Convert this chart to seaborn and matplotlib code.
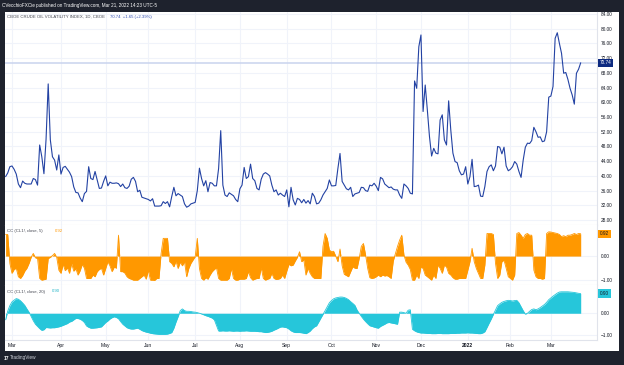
import numpy as np
import pandas as pd
import matplotlib
matplotlib.use('Agg')
import matplotlib.pyplot as plt
from matplotlib.patches import Rectangle
from matplotlib.ticker import FuncFormatter
import seaborn as sns

# NYSE trading days, Feb 24 2021 -> Mar 21 2022
holidays = ['2021-04-02', '2021-05-31', '2021-07-05', '2021-09-06',
            '2021-11-25', '2021-12-24', '2022-01-17', '2022-02-21']
dates = pd.bdate_range('2021-02-24', '2022-03-21', freq='C', holidays=holidays)

# CBOE crude oil volatility index (OVX), daily close
ovx = [39.8, 40.8, 42.5, 42.7, 41.8, 40.5, 37.8, 36.8, 38.6, 38.0,
       37.8, 37.8, 37.8, 39.3, 39.0, 37.5, 48.4, 45.2, 40.6, 50.0,
       65.0, 49.8, 45.2, 44.3, 41.6, 45.7, 40.5, 42.3, 42.6, 41.8,
       41.0, 39.8, 37.0, 35.5, 35.4, 34.0, 33.0, 35.2, 35.8, 42.5,
       39.3, 39.0, 41.2, 38.9, 36.6, 36.7, 38.5, 40.0, 37.3, 38.3,
       38.0, 38.0, 38.1, 37.9, 37.1, 37.8, 36.8, 36.6, 37.2, 39.1,
       39.6, 38.5, 35.7, 36.1, 34.2, 34.0, 33.8, 33.6, 33.2, 33.8,
       31.8, 31.8, 31.8, 31.9, 33.0, 32.5, 33.0, 31.6, 34.4, 36.9,
       34.6, 35.2, 34.8, 34.4, 32.4, 31.5, 31.8, 32.4, 32.6, 32.8,
       36.0, 42.1, 39.3, 37.3, 38.7, 35.7, 38.2, 38.0, 37.3, 37.3,
       42.0, 52.3, 37.5, 34.8, 34.4, 35.4, 35.0, 34.6, 33.6, 33.0,
       36.5, 37.5, 42.3, 39.3, 39.8, 43.2, 39.3, 38.7, 36.6, 36.2,
       39.1, 40.5, 40.9, 40.5, 40.0, 37.5, 35.7, 36.2, 34.8, 35.3,
       34.8, 34.4, 36.2, 31.6, 36.9, 33.5, 32.1, 33.9, 33.6, 32.7,
       33.6, 32.6, 33.3, 32.4, 35.3, 34.4, 32.4, 32.6, 33.5, 34.8,
       35.7, 36.6, 38.9, 37.3, 37.3, 37.4, 42.0, 46.1, 38.5, 37.5,
       36.5, 36.2, 36.9, 34.4, 35.1, 35.3, 35.5, 36.9, 36.8, 36.0,
       35.8, 37.5, 37.3, 38.0, 37.2, 36.0, 39.6, 39.2, 37.8, 37.3,
       36.8, 37.0, 36.4, 36.2, 36.2, 34.8, 33.9, 37.8, 37.3, 36.6,
       35.3, 35.1, 65.8, 63.8, 75.1, 78.3, 57.5, 64.7, 57.9, 50.7,
       45.4, 47.5, 46.2, 46.0, 55.2, 56.6, 49.8, 48.4, 60.4, 52.5,
       46.2, 43.9, 43.6, 41.4, 40.3, 40.5, 42.5, 37.8, 39.8, 44.5,
       37.1, 37.2, 37.5, 34.5, 34.4, 37.1, 41.2, 42.5, 43.0, 41.4,
       42.7, 48.0, 47.8, 46.0, 47.8, 42.7, 41.4, 41.8, 42.5, 43.9,
       43.2, 41.2, 39.6, 44.3, 47.8, 48.9, 48.8, 49.6, 53.2, 52.0,
       50.5, 50.6, 49.3, 49.5, 52.0, 61.4, 61.7, 64.3, 77.4, 78.9,
       76.0, 73.3, 67.9, 68.1, 66.2, 63.8, 62.0, 59.5, 67.9, 69.0,
       70.74]

# correlation coefficient vs CL1!, 5 bars
cc5 = [0.89, 0.89, -0.30, -0.71, -0.55, -0.50, -0.85, -0.92, -0.80, -0.62,
       -0.50, -0.30, -0.05, 0.11, -0.07, -0.10, -0.92, -0.99, -0.97, -0.95,
       -0.10, -0.05, 0.02, 0.11, -0.05, -0.58, -0.71, -0.34, -0.60, -0.48,
       -0.71, -0.30, -0.62, -0.52, -0.78, -0.60, -0.34, -0.50, -0.92, -0.92,
       -0.92, -0.78, -0.85, -0.64, -0.55, -0.50, -0.78, -0.51, -0.23, -0.40,
       -0.64, -0.45, -0.50, 0.86, -0.64, -0.64, -0.70, -0.85, -0.92, -0.95,
       -0.99, -0.99, -0.99, -0.92, -0.85, -0.78, -0.95, -0.58, -0.99, -0.99,
       -1.00, -0.92, -0.92, 0.10, 0.73, 0.73, 0.73, -0.23, -0.30, -0.44,
       -0.21, -0.51, -0.25, -0.40, -0.23, -0.85, -0.51, -0.30, -0.16, -0.03,
       0.73, -0.51, -0.92, -0.99, -0.89, -0.95, -0.78, -0.64, -0.55, -0.48,
       -0.92, -0.99, -0.99, -0.99, -0.99, -0.92, -0.51, -0.92, -0.99, -0.99,
       -0.95, -0.95, -0.95, -0.92, -0.64, -0.89, -0.99, -0.95, -0.92, -0.92,
       -0.48, -0.92, -0.99, -0.95, -0.92, -0.71, -0.92, -0.96, -0.95, -0.92,
       -0.78, -0.92, -0.62, -0.34, -0.40, -0.37, -0.20, -0.05, 0.18, -0.23,
       -0.15, -0.78, -0.51, -0.71, -0.85, -0.92, -0.92, -0.92, -0.92, 0.40,
       0.93, 0.73, 0.25, 0.18, 0.20, 0.00, -0.23, 0.29, -0.40, -0.75,
       -0.80, -0.85, -0.64, -0.44, -0.50, -0.51, -0.10, 0.40, 0.52, 0.05,
       -0.51, -0.89, -0.92, -0.90, -0.85, -0.78, -0.85, -0.78, -0.82, -0.80,
       -0.85, -0.92, -0.20, 0.10, 0.40, 0.66, 0.86, 0.05, -0.25, -0.37,
       -0.55, -0.99, -0.99, -0.78, -0.92, -0.44, -0.51, -0.78, -0.85, -0.92,
       -0.99, -0.78, -0.92, -0.37, -0.50, -0.71, -0.37, -0.45, -0.71, -0.78,
       -0.89, -0.95, -0.95, -0.92, -0.92, -0.92, -0.92, -0.58, -0.23, 0.32,
       -0.23, -0.51, -0.71, -0.92, -0.92, -0.37, 0.93, 0.93, 0.93, 0.89,
       -0.30, -0.92, -0.78, -0.23, -0.17, -0.50, -0.85, -0.92, -0.99, -0.78,
       0.93, 0.97, 0.86, 0.73, 0.89, 0.93, 0.86, 0.86, -0.58, -0.85,
       -0.92, -0.92, -0.95, -0.92, 0.93, 1.00, 0.99, 0.97, 0.95, 0.93,
       0.89, 0.80, 0.84, 0.80, 0.86, 0.86, 0.89, 0.93, 0.89, 0.93,
       0.92]

# correlation coefficient vs CL1!, 20 bars
cc20 = [-0.30, 0.10, 0.35, 0.52, 0.60, 0.67, 0.64, 0.57, 0.47, 0.36,
        0.20, 0.05, -0.15, -0.34, -0.50, -0.60, -0.70, -0.78, -0.75, -0.65,
        -0.66, -0.67, -0.66, -0.66, -0.64, -0.62, -0.59, -0.55, -0.51, -0.47,
        -0.40, -0.37, -0.30, -0.23, -0.24, -0.27, -0.33, -0.42, -0.58, -0.64,
        -0.68, -0.68, -0.67, -0.66, -0.64, -0.62, -0.52, -0.42, -0.35, -0.26,
        -0.20, -0.16, -0.19, -0.25, -0.38, -0.50, -0.58, -0.66, -0.70, -0.72,
        -0.72, -0.70, -0.68, -0.73, -0.79, -0.83, -0.86, -0.88, -0.91, -0.93,
        -0.94, -0.95, -0.96, -0.96, -0.96, -0.96, -0.95, -0.92, -0.88, -0.68,
        -0.40, -0.15, 0.12, 0.20, 0.12, 0.09, 0.09, 0.08, 0.06, 0.05,
        0.03, 0.00, -0.03, -0.07, -0.11, -0.14, -0.18, -0.22, -0.30, -0.55,
        -0.81, -0.81, -0.80, -0.81, -0.81, -0.80, -0.81, -0.82, -0.81, -0.81,
        -0.82, -0.81, -0.81, -0.80, -0.81, -0.82, -0.82, -0.82, -0.83, -0.84,
        -0.84, -0.86, -0.88, -0.87, -0.85, -0.82, -0.77, -0.73, -0.68, -0.63,
        -0.62, -0.64, -0.66, -0.72, -0.80, -0.85, -0.88, -0.88, -0.88, -0.89,
        -0.91, -0.93, -0.88, -0.81, -0.70, -0.62, -0.57, -0.40, -0.22, -0.05,
        0.12, 0.30, 0.48, 0.58, 0.66, 0.70, 0.72, 0.74, 0.74, 0.72,
        0.68, 0.62, 0.53, 0.45, 0.36, 0.15, 0.00, -0.14, -0.27, -0.38,
        -0.48, -0.57, -0.60, -0.63, -0.66, -0.68, -0.60, -0.55, -0.50, -0.44,
        -0.42, -0.44, -0.46, -0.48, -0.50, 0.05, 0.05, 0.03, 0.00, 0.14,
        0.16, -0.73, -0.80, -0.85, -0.88, -0.90, -0.90, -0.91, -0.92, -0.92,
        -0.93, -0.93, -0.93, -0.92, -0.92, -0.93, -0.93, -0.93, -0.93, -0.92,
        -0.92, -0.92, -0.91, -0.91, -0.90, -0.90, -0.90, -0.89, -0.90, -0.90,
        -0.91, -0.92, -0.93, -0.93, -0.90, -0.84, -0.65, -0.45, -0.26, -0.05,
        0.15, 0.35, 0.43, 0.50, 0.54, 0.57, 0.59, 0.58, 0.56, 0.58,
        0.59, 0.48, 0.30, 0.12, -0.04, 0.00, 0.09, 0.17, 0.20, 0.16,
        0.20, 0.26, 0.33, 0.40, 0.50, 0.62, 0.70, 0.78, 0.85, 0.92,
        0.97, 0.98, 0.98, 0.98, 0.98, 0.97, 0.96, 0.95, 0.93, 0.91,
        0.90]

assert len(ovx) == len(cc5) == len(cc20) == len(dates), (len(ovx), len(cc5), len(cc20), len(dates))

df = pd.DataFrame({'bar': np.arange(len(dates)), 'date': dates,
                   'ovx': ovx, 'cc5': cc5, 'cc20': cc20})

sns.set_style('white')
plt.rcParams['font.family'] = ['Liberation Sans', 'DejaVu Sans']

W, H = 624, 365
BG = '#1e222d'
GRID = '#f0f3fa'
SEP = '#e0e3eb'
TXT = '#131722'
BLUE = '#2342a3'
ORANGE = '#ff9800'
CYAN = '#26c6da'

fig = plt.figure(figsize=(W / 100, H / 100), dpi=100, facecolor=BG)


def px_rect(x0, y0, x1, y1):
    return [x0 / W, 1 - y1 / H, (x1 - x0) / W, (y1 - y0) / H]


fig.patches.append(Rectangle((5 / W, 1 - 351 / H), 614 / W, 339 / H,
                             transform=fig.transFigure, facecolor='white',
                             edgecolor='none', zorder=-1))

ax1 = fig.add_axes(px_rect(5, 12, 597, 225))
ax2 = fig.add_axes(px_rect(5, 225, 597, 285))
ax3 = fig.add_axes(px_rect(5, 285, 597, 340))

# month starts for the time scale
first = df.groupby([df.date.dt.year, df.date.dt.month])['bar'].min()
month_pos = first.values[1:]
month_lab = []
for (yr, mo), _ in first.iloc[1:].items():
    month_lab.append(str(yr) if mo == 1 else pd.Timestamp(yr, mo, 1).strftime('%b'))

minus = FuncFormatter(lambda v, p: ('%.2f' % v).replace('-', '\u2212'))

for ax in (ax1, ax2, ax3):
    ax.set_xlim(-0.28, 277.65)
    for s in ('top', 'left'):
        ax.spines[s].set_visible(False)
    for s in ('right', 'bottom'):
        ax.spines[s].set_color(SEP)
        ax.spines[s].set_linewidth(0.8)
    for m in month_pos:
        ax.axvline(m, color=GRID, lw=0.8, zorder=0)
    ax.yaxis.tick_right()
    ax.yaxis.set_major_formatter(minus)
    ax.tick_params(axis='y', length=0, pad=3, labelsize=3.4, colors=TXT)
    ax.grid(axis='y', color=GRID, lw=0.8)
    ax.set_axisbelow(True)

# main panel
sns.lineplot(data=df, x='bar', y='ovx', ax=ax1, color=BLUE, lw=0.8)
ax1.axhline(ovx[-1], color='#c9d3ee', lw=1.1, zorder=1)
ax1.set_ylim(26.66, 84.54)
ax1.set_yticks(np.arange(28, 85, 4))

# 5-bar correlation
ax2.fill_between(df['bar'], 0, df['cc5'], color=ORANGE, lw=0)
sns.lineplot(data=df, x='bar', y='cc5', ax=ax2, color=ORANGE, lw=0.6)
ax2.set_ylim(-1.19, 1.28)
ax2.set_yticks([-1, 0])

# 20-bar correlation
ax3.fill_between(df['bar'], 0, df['cc20'], color=CYAN, lw=0)
sns.lineplot(data=df, x='bar', y='cc20', ax=ax3, color=CYAN, lw=0.6)
ax3.set_ylim(-1.22, 1.29)
ax3.set_yticks([-1, 0])

for ax in (ax1, ax2, ax3):
    ax.set_xlabel('')
    ax.set_ylabel('')
    ax.set_xticks(month_pos)

ax1.tick_params(axis='x', labelbottom=False, length=0)
ax2.tick_params(axis='x', labelbottom=False, length=0)
ax3.set_xticklabels(month_lab)
ax3.tick_params(axis='x', length=0, pad=2, labelsize=3.6, colors=TXT)
for t in ax3.get_xticklabels():
    if t.get_text() == '2022':
        t.set_fontweight('bold')

# last-value boxes on the price scale
for ax, val, fc, tc in ((ax1, ovx[-1], '#0d2a80', 'white'),
                        (ax2, cc5[-1], ORANGE, TXT),
                        (ax3, cc20[-1], CYAN, TXT)):
    ax.text(1 + 3 / 592, val, '%.2f' % val, transform=ax.get_yaxis_transform(),
            ha='left', va='center', fontsize=3.4, color=tc, clip_on=False,
            bbox=dict(boxstyle='square,pad=0.35', facecolor=fc, edgecolor='none'))

# legends
fig.text(7 / W, 1 - 17 / H, 'CBOE CRUDE OIL VOLATILITY INDEX, 1D, CBOE',
         fontsize=3.1, color='#434651', va='center')
fig.text(110 / W, 1 - 17 / H, '70.74  +1.65 (+2.39%)',
         fontsize=3.1, color='#2e4bb0', va='center')
fig.text(7 / W, 1 - 231 / H, 'CC (CL1!, close, 5)', fontsize=3.1, color='#434651', va='center')
fig.text(55 / W, 1 - 231 / H, '0.92', fontsize=3.1, color=ORANGE, va='center')
fig.text(7 / W, 1 - 291.5 / H, 'CC (CL1!, close, 20)', fontsize=3.1, color='#434651', va='center')
fig.text(52 / W, 1 - 291.5 / H, '0.90', fontsize=3.1, color='#1fb3c6', va='center')

# header and footer
fig.text(2 / W, 1 - 6 / H, 'CVecchioFXCie published on TradingView.com, Mar 21, 2022 14:23 UTC-5',
         fontsize=3.3, color='white', va='center')
fig.text(4 / W, 1 - 358 / H, '17', fontsize=3.6, color='white', fontweight='bold', va='center')
fig.text(10 / W, 1 - 358 / H, 'TradingView', fontsize=3.4, color='#d1d4dc', va='center')

fig.savefig('out.png', dpi=100, facecolor=BG)
